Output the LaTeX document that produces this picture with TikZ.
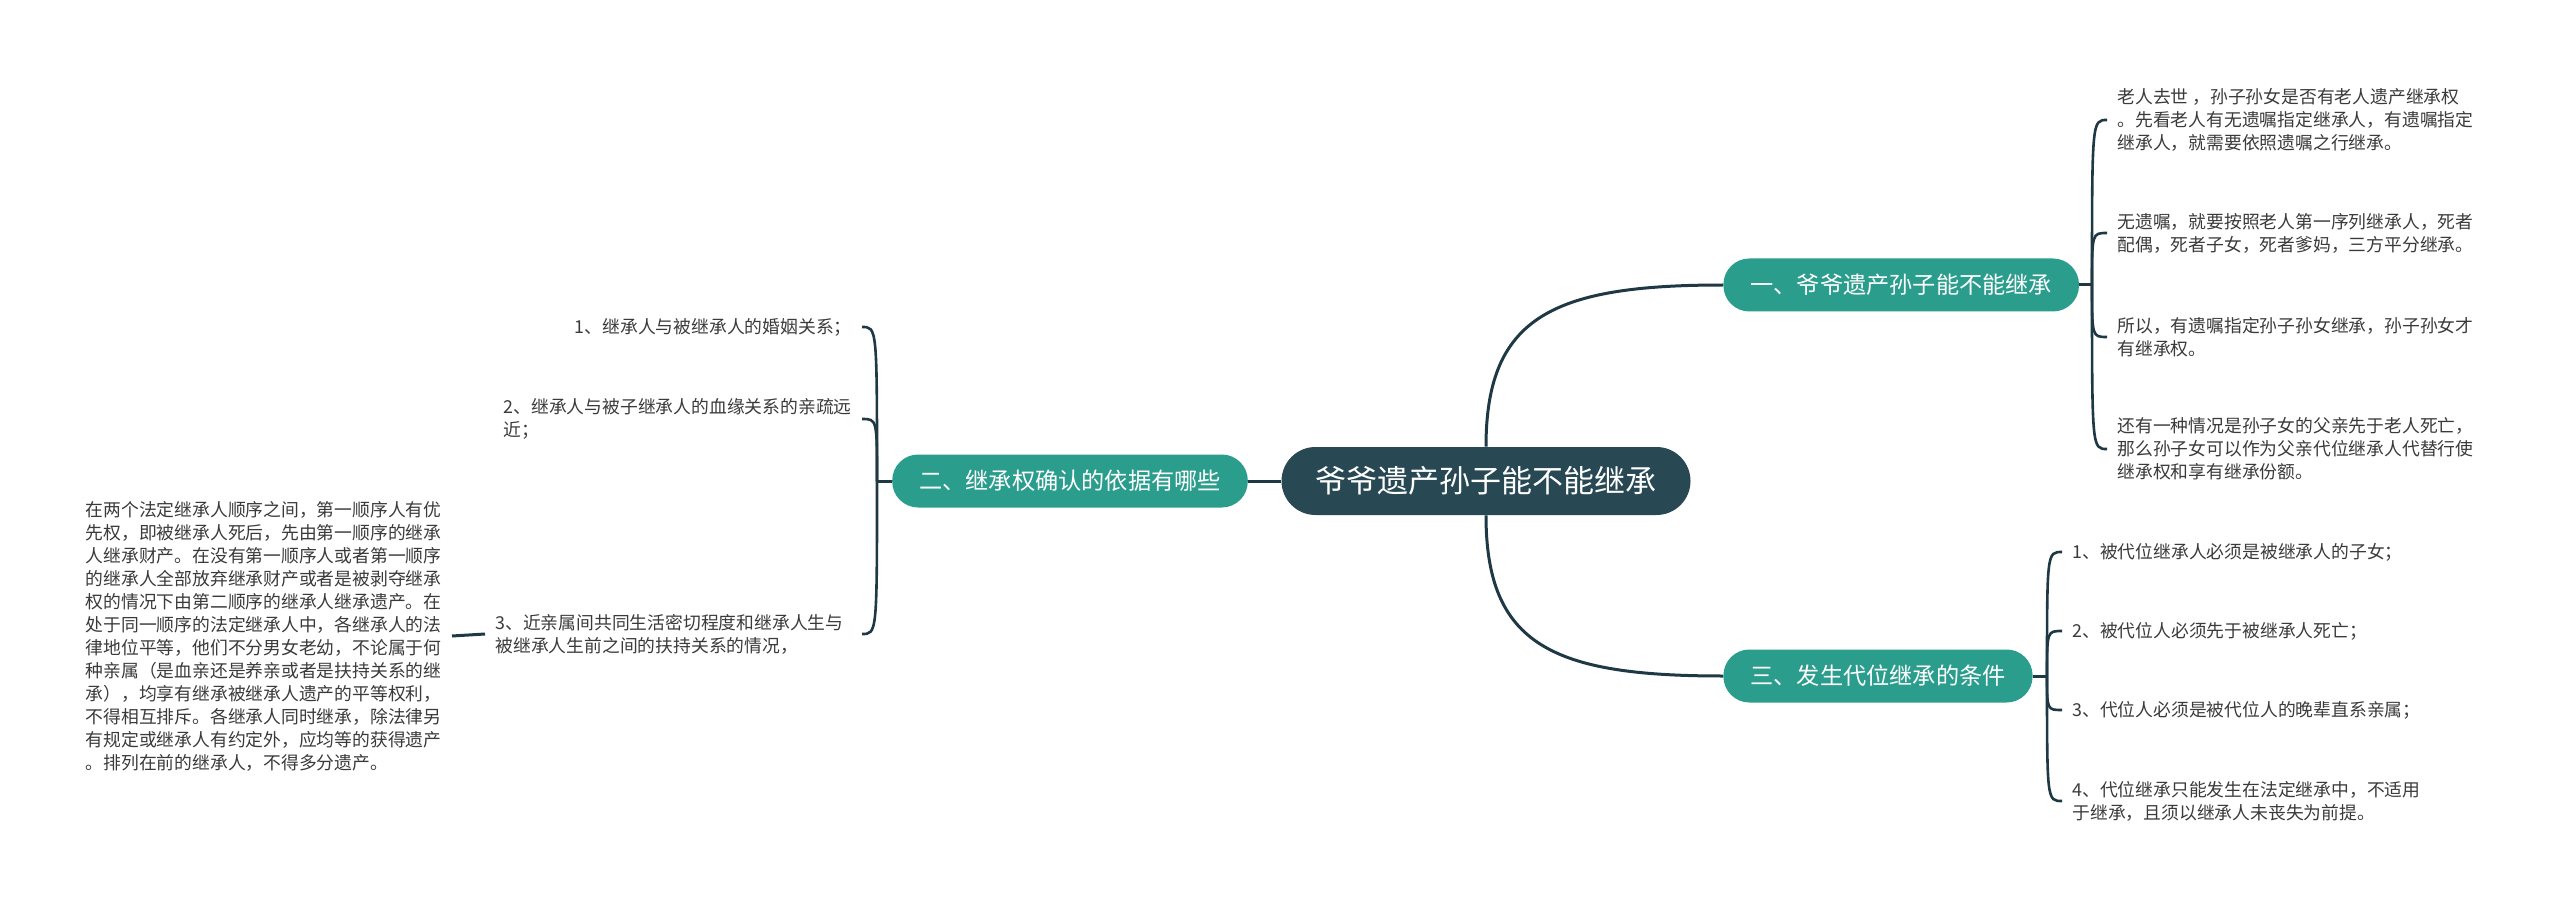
\documentclass[tikz,border=0pt]{standalone}
\usepackage{fontspec}
\setmainfont{Noto Sans CJK SC}
\usetikzlibrary{calc}
\definecolor{rootbg}{RGB}{40,72,84}
\definecolor{branchbg}{RGB}{43,157,140}
\definecolor{linkc}{RGB}{30,56,68}
\definecolor{leaftxt}{RGB}{58,58,58}

\begin{document}
\begin{tikzpicture}[x=0.5pt,y=-0.5pt,
        root/.style={rectangle, fill=rootbg, text=white, rounded corners=17pt, minimum height=34pt, inner xsep=17pt, font=\fontsize{15.5pt}{18pt}\selectfont},
        branch/.style={rectangle, fill=branchbg, text=white, rounded corners=13pt, minimum height=26.5pt, inner xsep=13.5pt, font=\fontsize{11.6pt}{14pt}\selectfont},
        leaf/.style={align=left, text=leaftxt, inner xsep=5pt, inner ysep=0pt, font=\fontsize{8.9pt}{11.5pt}\selectfont},
        link/.style={draw=linkc, line width=1.5pt},
        brace/.style={draw=linkc, line width=1.3pt}
    ]
        \useasboundingbox (0,0) rectangle (2560,909);

        \node[root] (root) at (1486,481) {爷爷遗产孙子能不能继承};
        \node[branch, anchor=west] (b1) at (1723,285) {一、爷爷遗产孙子能不能继承};
        \node[branch] (b2) at (1070,481) {二、继承权确认的依据有哪些};
        \node[branch, anchor=west] (b3) at (1723,676) {三、发生代位继承的条件};

        % branch 1 leaves
        \node[leaf, anchor=west] (r1) at (2107,120) {老人去世 ，孙子孙女是否有老人遗产继承权\\。先看老人有无遗嘱指定继承人，有遗嘱指定\\继承人，就需要依照遗嘱之行继承。};
        \node[leaf, anchor=west] (r2) at (2107,233) {无遗嘱，就要按照老人第一序列继承人，死者\\配偶，死者子女，死者爹妈，三方平分继承。};
        \node[leaf, anchor=west] (r3) at (2107,337) {所以，有遗嘱指定孙子孙女继承，孙子孙女才\\有继承权。};
        \node[leaf, anchor=west] (r4) at (2107,449) {还有一种情况是孙子女的父亲先于老人死亡，\\那么孙子女可以作为父亲代位继承人代替行使\\继承权和享有继承份额。};

        % branch 3 leaves
        \node[leaf, anchor=west] (s1) at (2062,552) {1、被代位继承人必须是被继承人的子女；};
        \node[leaf, anchor=west] (s2) at (2062,631) {2、被代位人必须先于被继承人死亡；};
        \node[leaf, anchor=west] (s3) at (2062,710) {3、代位人必须是被代位人的晚辈直系亲属；};
        \node[leaf, anchor=west] (s4) at (2062,801) {4、代位继承只能发生在法定继承中，不适用\\于继承，且须以继承人未丧失为前提。};

        % branch 2 leaves
        \node[leaf, anchor=east, align=right] (l1) at (862,327) {1、继承人与被继承人的婚姻关系；};
        \node[leaf, anchor=east] (l2) at (862,419) {2、继承人与被子继承人的血缘关系的亲疏远\\近；};
        \node[leaf, anchor=west] (l3) at (485,634) {3、近亲属间共同生活密切程度和继承人生与\\被继承人生前之间的扶持关系的情况，};
        \node[leaf, anchor=east] (p1) at (452,636) {在两个法定继承人顺序之间，第一顺序人有优\\先权，即被继承人死后，先由第一顺序的继承\\人继承财产。在没有第一顺序人或者第一顺序\\的继承人全部放弃继承财产或者是被剥夺继承\\权的情况下由第二顺序的继承人继承遗产。在\\处于同一顺序的法定继承人中，各继承人的法\\律地位平等，他们不分男女老幼，不论属于何\\种亲属（是血亲还是养亲或者是扶持关系的继\\承），均享有继承被继承人遗产的平等权利，\\不得相互排斥。各继承人同时继承，除法律另\\有规定或继承人有约定外，应均等的获得遗产\\。排列在前的继承人，不得多分遗产。};

        \coordinate (j1) at (2092,285);
        \coordinate (j3) at (2047,676);
        \coordinate (j2) at (877,481);

        \draw[link] (root.north) .. controls +(0,-130) and +(-170,0) .. (b1.west);
        \draw[link] (root.south) .. controls +(0,130) and +(-170,0) .. (b3.west);
        \draw[link] (b2.east) -- (root.west);

        \draw[link] (b1.east) -- (j1);
        \foreach \n in {r1,r2,r3,r4}
            \draw[brace] (j1) .. controls (j1 |- \n.west) .. (\n.west);
        \draw[link] (b3.east) -- (j3);
        \foreach \n in {s1,s2,s3,s4}
            \draw[brace] (j3) .. controls (j3 |- \n.west) .. (\n.west);
        \draw[link] (b2.west) -- (j2);
        \draw[brace] (j2) .. controls (j2 |- l1.east) .. (l1.east);
        \draw[brace] (j2) .. controls (j2 |- l2.east) .. (l2.east);
        \draw[brace] (j2) .. controls (j2 |- 862,634) .. (862,634);
        \draw[link] (p1.east) -- (l3.west);
    \end{tikzpicture}
\end{document}
